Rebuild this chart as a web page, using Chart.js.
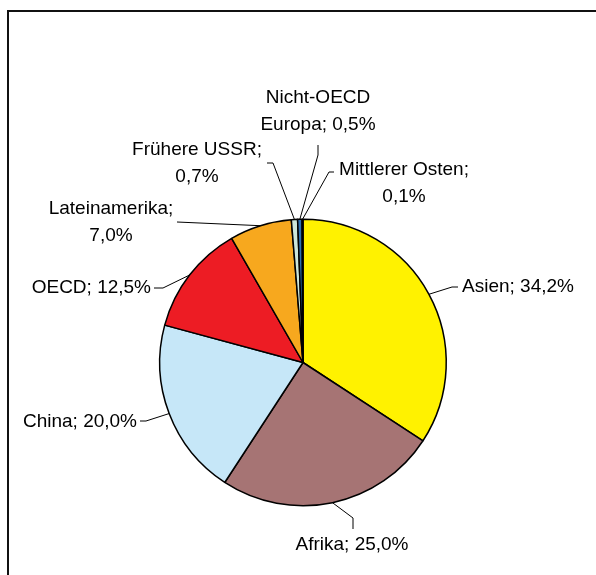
<!DOCTYPE html>
<html>
<head>
<meta charset="utf-8">
<script src="https://cdn.jsdelivr.net/npm/chart.js@4"></script>
<style>
  html, body { margin: 0; padding: 0; background: #fff; }
  #wrap { position: relative; width: 596px; height: 575px; overflow: hidden; }
  #rahmen {
    position: absolute; left: 7px; top: 10px; width: 620px; height: 600px;
    border-left: 2px solid #111; border-top: 2px solid #111;
  }
  #diagramm { position: absolute; left: 0; top: 0; }
</style>
</head>
<body>
<div id="wrap">
  <div id="rahmen"></div>
  <canvas id="diagramm" width="596" height="575"></canvas>
</div>
<script>
const regionen = ['Asien', 'Afrika', 'China', 'OECD', 'Lateinamerika', 'Frühere USSR', 'Nicht-OECD Europa', 'Mittlerer Osten'];
const anteile = [34.2, 25.0, 20.0, 12.5, 7.0, 0.7, 0.5, 0.1];
const etiketten = [
    ['Asien; 34,2%'],
    ['Afrika; 25,0%'],
    ['China; 20,0%'],
    ['OECD; 12,5%'],
    ['Lateinamerika;', '7,0%'],
    ['Frühere USSR;', '0,7%'],
    ['Nicht-OECD', 'Europa; 0,5%'],
    ['Mittlerer Osten;', '0,1%']
];

const farben = ['#fff200', '#a67474', '#c6e7f8', '#ed1c24', '#f7a81e', '#cce6da', '#2e72b4', '#1d3f80'];

// Lage der Beschriftungen und Knickpunkte der Führungslinien
const lage = [
    { x: 462, y: 287, align: 'left',   linie: [[458, 287], [452, 287]] },
    { x: 352, y: 545, align: 'center', linie: [[353, 529], [353, 518]] },
    { x: 137, y: 422, align: 'right',  linie: [[140, 421], [146, 421]] },
    { x: 151, y: 288, align: 'right',  linie: [[154, 288], [163, 288]] },
    { x: 111, y: 209, align: 'center', linie: [[177, 222]] },
    { x: 197, y: 150, align: 'center', linie: [[267, 163], [273, 163]] },
    { x: 318, y: 98,  align: 'center', linie: [[318, 145], [318, 155]] },
    { x: 404, y: 170, align: 'center', linie: [[334, 172], [329, 172]] }
];

const ZEILE = 27;

const beschriftung = {
    id: 'beschriftung',
    afterDatasetsDraw(chart) {
        const c = chart.ctx;
        const bogen = chart.getDatasetMeta(0).data;
        c.save();
        c.strokeStyle = '#000';
        c.lineWidth = 1;
        bogen.forEach((b, i) => {
            const mitte = (b.startAngle + b.endAngle) / 2;
            const ex = b.x + Math.cos(mitte) * b.outerRadius;
            const ey = b.y + Math.sin(mitte) * b.outerRadius;
            const p = lage[i].linie;
            c.beginPath();
            c.moveTo(p[0][0], p[0][1]);
            for (let k = 1; k < p.length; k++) c.lineTo(p[k][0], p[k][1]);
            c.lineTo(ex, ey);
            c.stroke();
        });
        c.fillStyle = '#000';
        c.font = '19px "Liberation Sans", Arial, sans-serif';
        c.textBaseline = 'middle';
        etiketten.forEach((zeilen, i) => {
            c.textAlign = lage[i].align;
            zeilen.forEach((t, z) => c.fillText(t, lage[i].x, lage[i].y + z * ZEILE));
        });
        c.restore();
    }
};

new Chart(document.getElementById('diagramm'), {
    type: 'pie',
    data: {
        labels: regionen,
        datasets: [{
            data: anteile,
            backgroundColor: farben,
            borderColor: '#000',
            borderWidth: 1.5
        }]
    },
    options: {
        responsive: false,
        animation: false,
        layout: { padding: { left: 159, right: 149, top: 218, bottom: 68 } },
        plugins: {
            legend: { display: false },
            tooltip: { enabled: false }
        }
    },
    plugins: [beschriftung]
});
</script>
</body>
</html>
